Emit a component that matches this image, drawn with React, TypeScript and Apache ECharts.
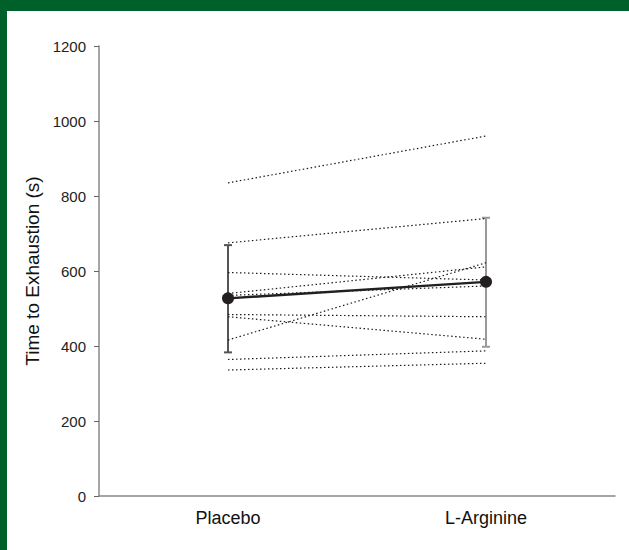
import React, { useEffect, useRef } from "react";
import * as echarts from "echarts";

const categories = ["Placebo", "L-Arginine"];
const placeboValues = [835, 675, 596, 540, 535, 484, 478, 416, 364, 336];
const lArginineValues = [960, 740, 576, 611, 560, 478, 418, 622, 387, 354];
const meanValues = [527, 571];
const errorLow = [383, 398];
const errorHigh = [669, 742];
const errorColors = ["#555555", "#9a9a9a"];
const yTicks = { min: 0, max: 1200, interval: 200 };

export default function App() {
  const ref = useRef<HTMLDivElement>(null);
  useEffect(() => {
    document.body.style.margin = "0";
    document.body.style.background = "#ffffff";
    document.body.style.overflow = "hidden";
    document.documentElement.style.background = "#ffffff";
    const chart = echarts.init(ref.current!, null, { renderer: "svg" });
    const font = "Liberation Sans, Arial, sans-serif";
    const subjectSeries = placeboValues.map((p, i) => ({
      type: "line",
      name: "subject" + (i + 1),
      data: [p, lArginineValues[i]],
      symbol: "none",
      z: 3,
      lineStyle: { color: "#1a1a1a", width: 1.2, type: [1.5, 2.5] },
    }));
    const errData = categories.map((_, i) => [i, errorLow[i], errorHigh[i], i]);
    chart.setOption({
      animation: false,
      grid: { left: 92, right: 14, top: 35, bottom: 54 },
      xAxis: {
        type: "category",
        data: categories,
        boundaryGap: true,
        axisLine: { lineStyle: { color: "#888888", width: 1.5 } },
        axisTick: { alignWithLabel: true, length: 5, lineStyle: { color: "#666666" } },
        axisLabel: { color: "#111111", fontSize: 18, fontFamily: font, margin: 13 },
      },
      yAxis: {
        type: "value",
        min: yTicks.min,
        max: yTicks.max,
        interval: yTicks.interval,
        name: "Time to Exhaustion (s)",
        nameLocation: "middle",
        nameGap: 53,
        nameTextStyle: { color: "#111111", fontSize: 19, fontFamily: font },
        axisLine: { show: true, lineStyle: { color: "#888888", width: 1.5 } },
        axisTick: { show: true, length: 5, lineStyle: { color: "#666666" } },
        splitLine: { show: false },
        axisLabel: {
          color: "#222222",
          fontSize: 15,
          fontFamily: font,
          margin: 13,
          formatter: (v: number) => String(v),
        },
      },
      series: [
        {
          type: "custom",
          name: "sd",
          z: 2,
          data: errData,
          renderItem: (params: any, api: any) => {
            const idx = api.value(0);
            const lo = api.coord([idx, api.value(1)]);
            const hi = api.coord([idx, api.value(2)]);
            const color = errorColors[api.value(3)];
            const w = 4;
            const style = { stroke: color, lineWidth: 2 };
            return {
              type: "group",
              children: [
                { type: "line", shape: { x1: lo[0], y1: lo[1], x2: hi[0], y2: hi[1] }, style },
                { type: "line", shape: { x1: lo[0] - w, y1: lo[1], x2: lo[0] + w, y2: lo[1] }, style },
                { type: "line", shape: { x1: hi[0] - w, y1: hi[1], x2: hi[0] + w, y2: hi[1] }, style },
              ],
            };
          },
        },
        ...subjectSeries,
        {
          type: "line",
          name: "mean",
          data: meanValues,
          z: 5,
          symbol: "circle",
          symbolSize: 12,
          itemStyle: { color: "#231f20" },
          lineStyle: { color: "#231f20", width: 2.5 },
        },
      ],
    });
    return () => chart.dispose();
  }, []);
  return (
    <div
      style={{
        position: "absolute",
        left: 0,
        top: 0,
        width: 629,
        height: 550,
        boxSizing: "border-box",
        borderTop: "11px solid #00602a",
        borderLeft: "7px solid #00602a",
        background: "#ffffff",
        overflow: "hidden",
      }}
    >
      <div ref={ref} style={{ width: 622, height: 539 }} />
    </div>
  );
}
